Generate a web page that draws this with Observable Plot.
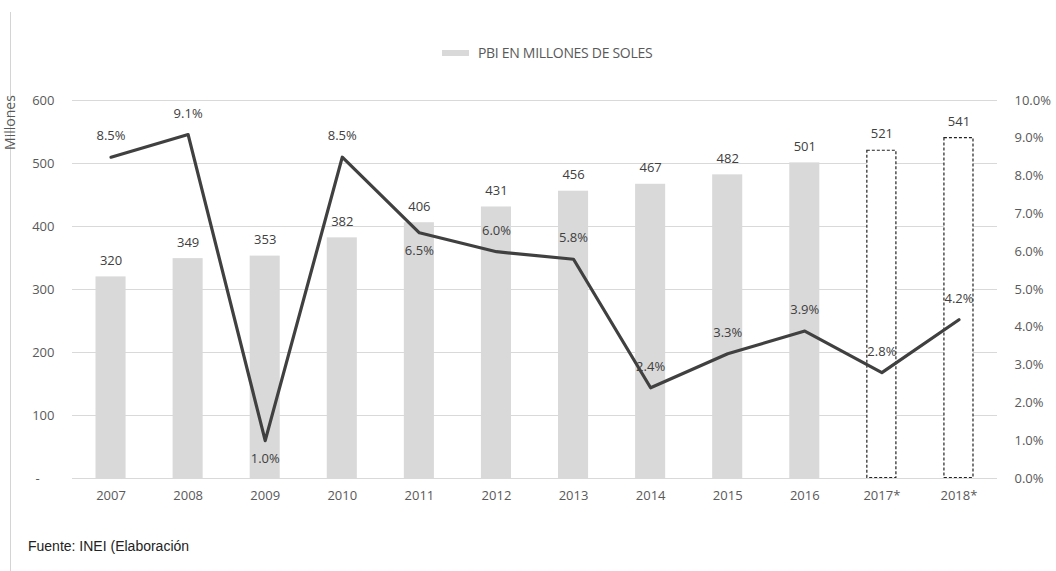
<!DOCTYPE html>
<html><head><meta charset="utf-8">
<script src="https://cdn.jsdelivr.net/npm/d3@7"></script>
<script src="https://cdn.jsdelivr.net/npm/@observablehq/plot@0.6"></script>
<style>
html,body{margin:0;padding:0;background:#fff;}
#wrap{position:relative;width:1056px;height:571px;overflow:hidden;font-family:"Open Sans",sans-serif;}
#border{position:absolute;left:10px;top:12px;width:1px;height:559px;background:#d4d4d4;}
#legend{position:absolute;left:442px;top:43px;font-size:14px;color:#595959;display:flex;align-items:center;letter-spacing:-0.3px;}
#legend .sw{width:27px;height:6px;background:#d9d9d9;margin-right:9px;}
#caption{position:absolute;left:28px;top:538px;font-family:"Liberation Sans",Arial,sans-serif;font-size:14px;color:#222;}
#ylab{position:absolute;left:-18px;top:113px;transform:rotate(-90deg);transform-origin:center;font-size:14px;color:#595959;}
#chart{position:absolute;left:0;top:0;}
</style></head>
<body>
<div id="wrap">
  <div id="chart"></div>
  <div id="border"></div>
  <div id="legend"><span class="sw"></span>PBI EN MILLONES DE SOLES</div>
  <div id="ylab">Millones</div>
  <div id="caption">Fuente: INEI (Elaboración</div>
</div>
<script>
const years = ["2007","2008","2009","2010","2011","2012","2013","2014","2015","2016","2017*","2018*"];
const pbi = [320,349,353,382,406,431,456,467,482,501,521,541];
const growth = [8.5,9.1,1.0,8.5,6.5,6.0,5.8,2.4,3.3,3.9,2.8,4.2];
const projected = [false,false,false,false,false,false,false,false,false,false,true,true];
const labelPos = ["above","above","below","above","below","above","above","above","above","above","above","above"];
const leftTicks = [0,100,200,300,400,500,600];
const rightTicks = [0,1,2,3,4,5,6,7,8,9,10];

const scaleK = 60; // 10% maps to 600 on the shared y scale
const data = years.map((y,i)=>({year:y,pbi:pbi[i],g:growth[i],proj:projected[i],pos:labelPos[i]}));
const dyFor = {above:-21, below:18};

const fontFam = "'Open Sans', sans-serif";
const pctMarks = ["above","below"].map(p =>
  Plot.text(data.filter(d=>d.pos===p), {x:"year", y:d=>d.g*scaleK, text:d=>d.g.toFixed(1)+"%", dy:dyFor[p], fill:"#404040", fontSize:13})
);
const chart = Plot.plot({
  width:1056, height:571,
  marginLeft:72, marginRight:59, marginTop:100, marginBottom:93,
  style:{fontFamily:fontFam, fontSize:"13px", color:"#595959", background:"transparent"},
  x:{domain:years, paddingInner:0.61, paddingOuter:0.305, round:false, label:null},
  y:{domain:[0,600], label:null},
  marks:[
    Plot.gridY(leftTicks, {stroke:"#d9d9d9", strokeOpacity:1, strokeWidth:1}),
    Plot.barY(data.filter(d=>!d.proj), {x:"year", y:"pbi", fill:"#d9d9d9"}),
    Plot.barY(data.filter(d=>d.proj), {x:"year", y:"pbi", fill:"white", stroke:"#222", strokeWidth:1.2, strokeDasharray:"3,2", inset:0.5}),
    Plot.axisY({anchor:"left", ticks:leftTicks, tickSize:0, tickPadding:18, tickFormat:d=> d===0 ? "-\u2007\u2007" : d, fill:"#595959", fontSize:13, label:null}),
    Plot.axisY({anchor:"right", ticks:rightTicks.map(t=>t*scaleK), tickSize:0, tickPadding:17, tickFormat:d=>(d/scaleK).toFixed(1)+"%", fill:"#595959", fontSize:13, label:null}),
    Plot.axisX({tickSize:0, tickPadding:12, fill:"#595959", fontSize:13, label:null}),
    Plot.lineY(data, {x:"year", y:d=>d.g*scaleK, stroke:"#404040", strokeWidth:3.2}),
    Plot.text(data, {x:"year", y:"pbi", text:d=>String(d.pbi), dy:-16, fill:"#404040", fontSize:13}),
    ...pctMarks
  ]
});
document.getElementById("chart").appendChild(chart);
</script>
</body></html>
